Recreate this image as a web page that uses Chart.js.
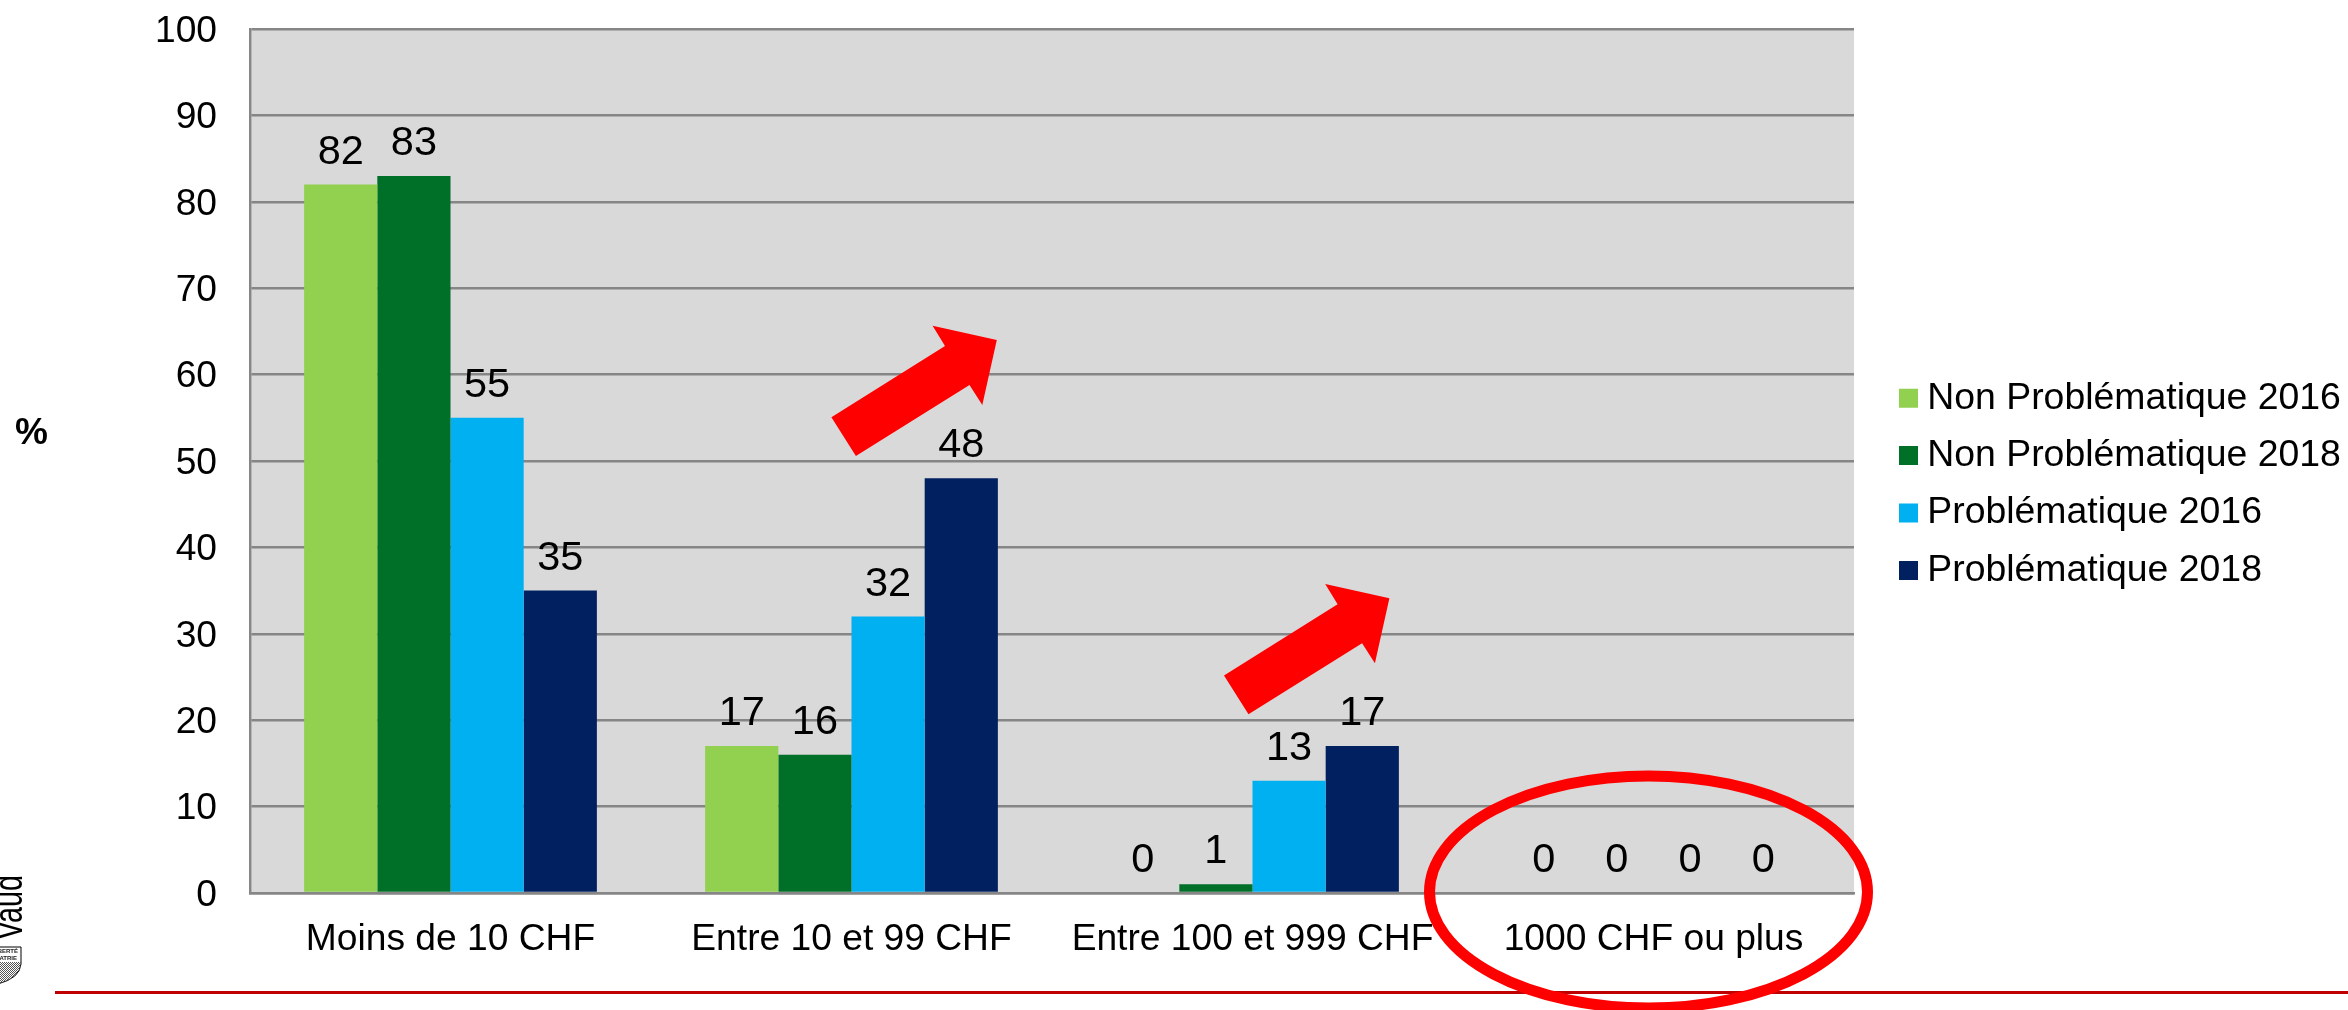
<!DOCTYPE html>
<html><head><meta charset="utf-8">
<style>html,body{margin:0;padding:0;background:#fff;overflow:hidden}canvas{display:block}</style>
<script src="https://cdn.jsdelivr.net/npm/chart.js@4"></script>
</head><body>
<div style="position:relative;width:2348px;height:1010px"><canvas id="c"></canvas></div>
<script>
const categories = ["Moins de 10 CHF","Entre 10 et 99 CHF","Entre 100 et 999 CHF","1000 CHF ou plus"];
const nonProb2016 = [82,17,0,0];
const nonProb2018 = [83,16,1,0];
const prob2016 = [55,32,13,0];
const prob2018 = [35,48,17,0];
const seriesNames = ["Non Problématique 2016","Non Problématique 2018","Problématique 2016","Problématique 2018"];
const seriesColors = ["#92d050","#006f27","#00b0f0","#002060"];
const yTicks = [0,10,20,30,40,50,60,70,80,90,100];
const FONT = '"Liberation Sans", Arial, sans-serif';
const GRID = '#868686';

const arrowShape = [[51.4,117.3],[75.9,156],[189.5,85],[202.3,105],[216.8,40],[152.6,25.7],[165,46]];

const extras = {
  id:'extras',
  beforeDraw(chart){
    const {ctx,chartArea:a}=chart;
    ctx.save();
    ctx.fillStyle='#d9d9d9';
    ctx.fillRect(a.left,a.top,a.right-a.left,a.bottom-a.top);
    ctx.restore();
  },
  afterLayout(chart){
    const l=chart.legend;
    const w=l.width,h=l.height;
    l.left=1888.45;l.top=359.5;l.right=l.left+w;l.bottom=l.top+h;
  },
  afterDatasetsDraw(chart){
    const {ctx}=chart;
    ctx.save();
    ctx.fillStyle='#000';
    ctx.textAlign='center';ctx.textBaseline='alphabetic';
    ctx.font='41.5px '+FONT;
    chart.data.datasets.forEach((ds,i)=>{
      chart.getDatasetMeta(i).data.forEach((bar,j)=>{
        ctx.fillText(String(ds.data[j]),bar.x,bar.y-21);
      });
    });
    ctx.restore();
  },
  afterDraw(chart){
    const {ctx}=chart;
    ctx.save();
    // percent label
    ctx.fillStyle='#000';ctx.font='bold 37px '+FONT;ctx.textAlign='left';ctx.textBaseline='alphabetic';
    ctx.fillText('%',15,444);
    // logo
    ctx.save();
    ctx.translate(22,940);ctx.rotate(-Math.PI/2);ctx.scale(0.72,1);
    ctx.font='40px '+FONT;ctx.fillText('Vaud',0,0);
    ctx.restore();
    ctx.save();
    ctx.beginPath();
    ctx.moveTo(-2,947);ctx.lineTo(21,947);ctx.lineTo(21,964);
    ctx.quadraticCurveTo(20,978,-2,984);ctx.closePath();
    ctx.fillStyle='#fff';ctx.fill();ctx.strokeStyle='#000';ctx.lineWidth=1;ctx.stroke();
    ctx.clip();
    ctx.strokeStyle='#555';ctx.lineWidth=1;
    ctx.beginPath();
    for(let k=-20;k<40;k+=2){ctx.moveTo(k,962);ctx.lineTo(k+24,986);}
    ctx.stroke();
    ctx.fillStyle='#222';ctx.font='bold 6px '+FONT;ctx.textAlign='right';
    ctx.fillText('LIBERTÉ',18,953);ctx.fillText('PATRIE',17,960);
    ctx.restore();
    // red rule
    ctx.fillStyle='#c00000';ctx.fillRect(55,991,2293,3);
    // ellipse
    ctx.strokeStyle='#ff0000';ctx.lineWidth=11;
    ctx.beginPath();ctx.ellipse(1648.5,892,219,116,0,0,Math.PI*2);ctx.stroke();
    // arrows
    ctx.fillStyle='#ff0000';
    [[780,300],[1172.6,558.3]].forEach(([ox,oy])=>{
      ctx.beginPath();
      arrowShape.forEach(([x,y],i)=>{const X=ox+x,Y=oy+y;i?ctx.lineTo(X,Y):ctx.moveTo(X,Y);});
      ctx.closePath();ctx.fill();
    });
    ctx.restore();
  }
};

new Chart(document.getElementById('c'),{
  type:'bar',
  data:{labels:categories,datasets:[nonProb2016,nonProb2018,prob2016,prob2018].map((d,i)=>({
    label:seriesNames[i],data:d,backgroundColor:seriesColors[i],borderWidth:0,
    barPercentage:1,categoryPercentage:0.73,pointStyle:'rect'
  }))},
  options:{
    responsive:true,maintainAspectRatio:false,animation:false,
    layout:{padding:{left:0,top:29,right:494,bottom:0}},
    plugins:{
      tooltip:{enabled:false},
      legend:{display:true,position:'chartArea',align:'start',
        labels:{usePointStyle:true,boxWidth:0.1,boxHeight:19,padding:20,color:'#000',
          font:{family:FONT,size:37.4}}}
    },
    scales:{
      x:{grid:{display:false,drawTicks:false},
        border:{display:true,color:GRID,width:2.4},
        ticks:{color:'#000',font:{family:FONT,size:37.2},padding:24,maxRotation:0,autoSkip:false},
        afterFit(s){s.height=117;}},
      y:{min:0,max:100,
        afterBuildTicks(s){s.ticks=yTicks.map(v=>({value:v}));},
        grid:{color:GRID,lineWidth:2.4,drawTicks:false},
        border:{display:true,color:GRID,width:2.4},
        ticks:{color:'#000',font:{family:FONT,size:37.2},padding:33,labelOffset:2.5},
        afterFit(s){s.width=250;s.paddingTop=0;s.paddingBottom=0;}}
    }
  },
  plugins:[extras]
});
</script>
</body></html>
